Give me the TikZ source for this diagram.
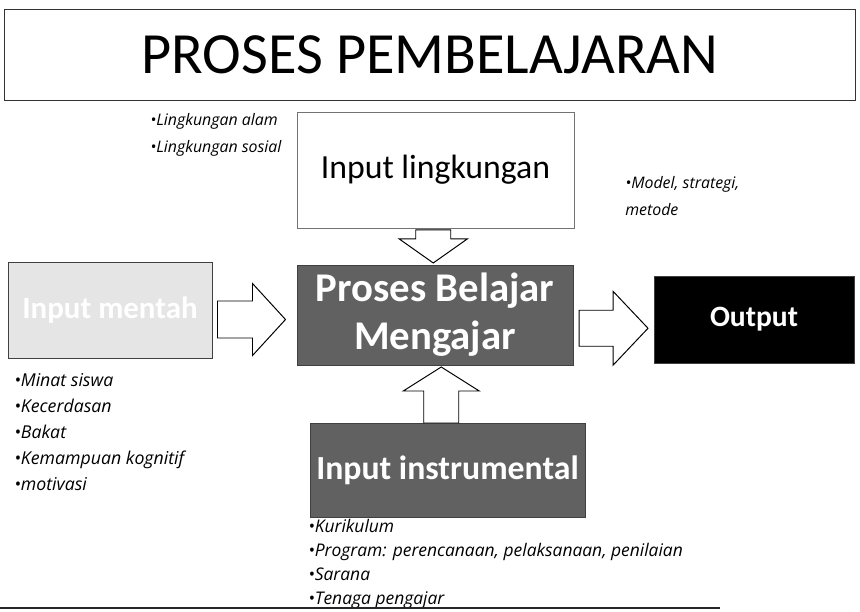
\documentclass[tikz,border=0pt]{standalone}
\usepackage{fontspec}
\setmainfont{Carlito}
\newfontfamily\notefont{Open Sans}
\usetikzlibrary{calc,positioning}
\tikzset{
  pbox/.style   ={rectangle, draw=black!75, line width=0.6pt, inner sep=0pt, align=center},
  rawbox/.style ={pbox, fill=black!10, text=white, font=\bfseries\fontsize{22}{26}\selectfont},
  darkbox/.style={pbox, fill=black!62, text=white, font=\bfseries\fontsize{29}{34}\selectfont},
  outbox/.style ={pbox, fill=black, text=white, font=\bfseries\fontsize{21}{25}\selectfont},
  envbox/.style ={pbox, draw=black!55, line width=0.5pt, font=\fontsize{24}{28}\selectfont},
  titlebox/.style={pbox, draw=black!80, line width=0.7pt, font=\fontsize{41.5}{48}\selectfont},
  arrowline/.style={draw=black, line width=0.7pt, fill=white, line join=miter},
  note/.style   ={align=left, inner sep=0pt, anchor=north west,
                  font=\notefont\itshape\fontsize{12.6}{18.5}\selectfont},
  smallnote/.style={note, font=\notefont\itshape\fontsize{11.3}{19.5}\selectfont},
  % block arrow: length / half shaft / half head / head length
  pics/fatarrow/.style args={#1/#2/#3/#4}{code={
    \draw[arrowline] (-#1/2,-#2) -- (#1/2-#4,-#2) -- (#1/2-#4,-#3) -- (#1/2,0)
      -- (#1/2-#4,#3) -- (#1/2-#4,#2) -- (-#1/2,#2) -- cycle;
  }},
}
\begin{document}
\begin{tikzpicture}[x=0.025cm, y=-0.025cm]
  \useasboundingbox (0,0) rectangle (860,611);
  % title
  \node[titlebox, minimum width=21.25cm, minimum height=2.25cm] (title) at (430,55) {PROSES PEMBELAJARAN};
  % boxes
  \node[envbox, minimum width=6.925cm, minimum height=2.9cm] (lingk) at (435.5,170) {Input lingkungan};
  \node[darkbox, minimum width=6.9cm, minimum height=2.5cm] (pbm) at (435,315) {Proses Belajar\\Mengajar};
  \node[rawbox, minimum width=5.1cm, minimum height=2.4cm] (raw) at (110,310) {Input mentah};
  \node[outbox, minimum width=5cm, minimum height=2.175cm] (out) at (754,319.5) {Output};
  \node[darkbox, font=\bfseries\fontsize{24}{30}\selectfont,
        minimum width=6.875cm, minimum height=2.35cm] (inst) at (447.5,470) {Input instrumental};
  % block arrows
  \pic (a1) at ($(raw.east)!0.5!(pbm.west)+(-3,7)$) {fatarrow=68/18.5/36/33};
  \pic (a2) at ($(pbm.east)!0.5!(out.west)+(0,11)$) {fatarrow=69/18/37/35};
  \pic[rotate=-90] (a3) at ($(lingk.south)!0.5!(pbm.north)+(-2,0)$) {fatarrow=33/17.5/34/24};
  \pic[rotate=90] (a4) at ($(pbm.south)!0.5!(inst.north)+(0,1)$) {fatarrow=56/17.5/38/24};
  % notes
  \node[smallnote] (nlingk) at (150,113) {•Lingkungan alam\\•Lingkungan sosial};
  \node[smallnote] (nmodel) at (625,176) {•Model, strategi,\\metode};
  \node[note] (nraw) at (14,373) {•Minat siswa\\•Kecerdasan\\•Bakat\\•Kemampuan kognitif\\•motivasi};
  \node[note, font=\notefont\itshape\fontsize{12.4}{17}\selectfont] (ninst) at (308,519)
    {•Kurikulum\\•Program: perencanaan, pelaksanaan, penilaian\\•Sarana\\•Tenaga pengajar};
  % page edge
  \coordinate (e1) at (0,608);
  \coordinate (e2) at (720,608);
  \draw[line width=1.2pt, black!85] (e1) -- (e2);
\end{tikzpicture}
\end{document}
